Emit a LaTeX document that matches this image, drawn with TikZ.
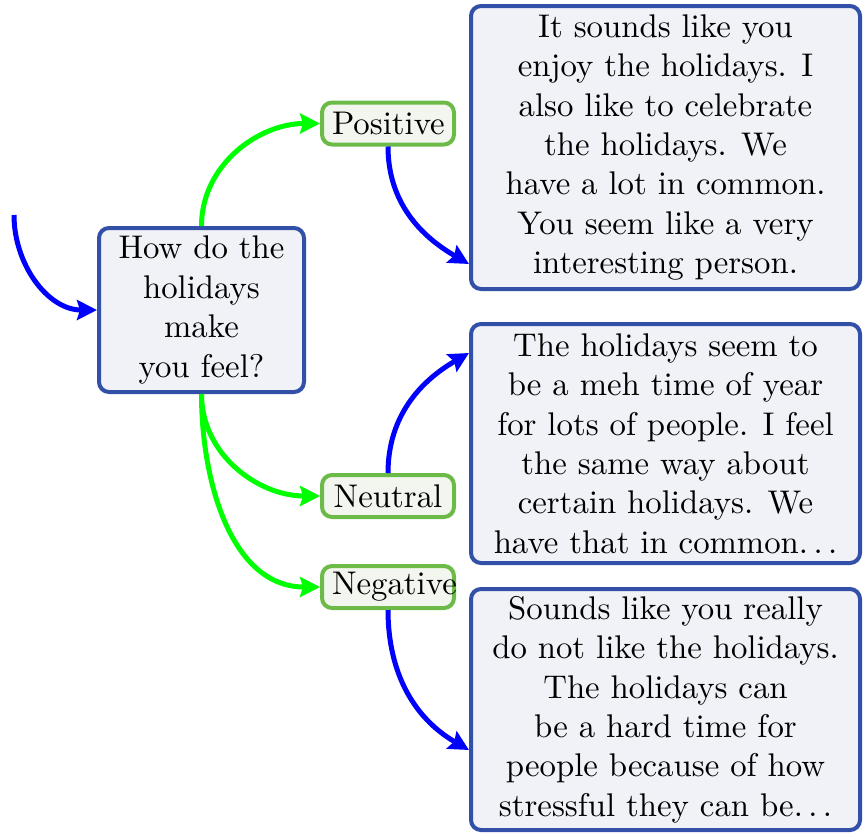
\documentclass[tikz,border=0pt]{standalone}
\usepackage{fontspec}
\setmainfont{lmroman10-regular.otf}
\usetikzlibrary{arrows.meta}
\definecolor{boxblue}{RGB}{50,80,168}
\definecolor{boxfill}{RGB}{241,242,248}
\definecolor{optgreen}{RGB}{108,186,72}
\definecolor{optfill}{RGB}{242,246,238}
\definecolor{arrgreen}{RGB}{0,255,0}
\definecolor{arrblue}{RGB}{0,0,255}
\newcommand{\mydots}{.\kern0.167em.\kern0.167em.}
\tikzset{
  qbox/.style={draw=boxblue, fill=boxfill, line width=4pt, rounded corners=10pt,
    align=center, inner sep=0pt, font=\fontsize{32.8pt}{39.4pt}\selectfont},
  optbox/.style={draw=optgreen, fill=optfill, line width=4pt, rounded corners=10pt,
    minimum width=132pt, minimum height=42pt, text width=112pt, align=center,
    inner sep=0pt, font=\fontsize{32.8pt}{39.4pt}\selectfont},
  garrow/.style={draw=arrgreen, line width=5pt, -{Stealth[length=20pt,width=20pt,inset=3pt]}},
  barrow/.style={draw=arrblue, line width=5pt, -{Stealth[length=20pt,width=20pt,inset=3pt]}},
}
\begin{document}
\begin{tikzpicture}[x=1pt,y=1pt]
\useasboundingbox (0,0) rectangle (866,-835);
\node[qbox, minimum width=205pt, minimum height=164pt] (q) at (201.5,-310)
  {How do the\\holidays\\make\\you feel?};
\node[optbox] (pos) at (388,-123.5) {Positive};
\node[optbox] (neu) at (388,-496) {Neutral};
\node[optbox] (neg) at (388,-587) {Negative};
\node[qbox, minimum width=389pt, minimum height=283pt] (r1) at (665.5,-147.5)
  {It sounds like you\\enjoy the holidays. I\\also like to celebrate\\the holidays. We\\have a lot in common.\\You seem like a very\\interesting person.};
\node[qbox, minimum width=389pt, minimum height=239pt] (r2) at (665.5,-443.5)
  {The holidays seem to\\be a meh time of year\\for lots of people. I feel\\the same way about\\certain holidays. We\\have that in common\mydots};
\node[qbox, minimum width=389pt, minimum height=241pt] (r3) at (665.5,-709.5)
  {Sounds like you really\\do not like the holidays.\\The holidays can\\be a hard time for\\people because of how\\stressful they can be\mydots};
\coordinate (start) at (14,-215);
\draw[barrow] (start) to[out=-90,in=180] (q.west);
\draw[garrow] (q.north) to[out=90,in=180] (pos.west);
\draw[garrow] (q.south) to[out=-90,in=180] (neu.west);
\draw[garrow] (q.south) to[out=-90,in=180] (neg.west);
\draw[barrow] (pos.south) to[out=-90,in=150] ([yshift=27pt]r1.south west);
\draw[barrow] (neu.north) to[out=90,in=210] ([yshift=-31pt]r2.north west);
\draw[barrow] (neg.south) to[out=-90,in=150] ([yshift=82pt]r3.south west);
\end{tikzpicture}
\end{document}
